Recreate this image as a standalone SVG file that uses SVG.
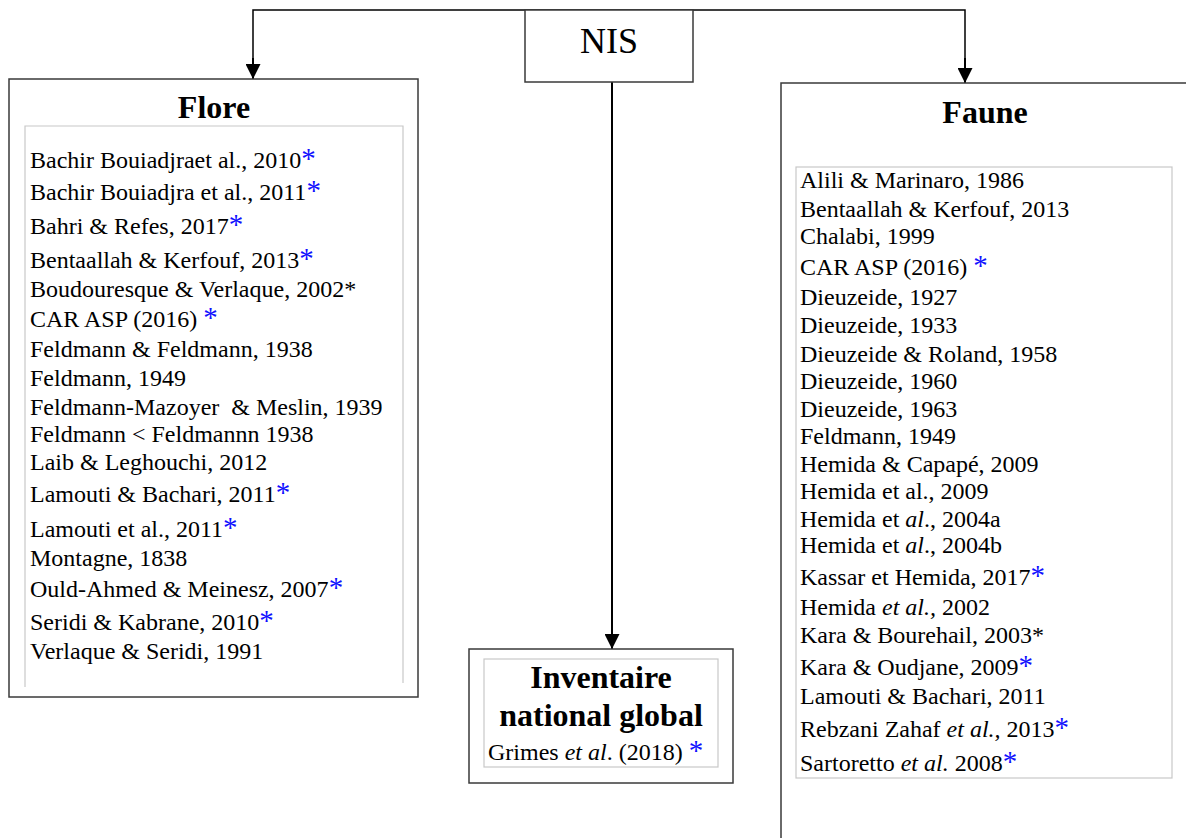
<svg xmlns="http://www.w3.org/2000/svg" width="1186" height="838" viewBox="0 0 1186 838">
<style>
text{font-family:"Liberation Serif","Times New Roman",serif;fill:#000}
.box{fill:#fff;stroke:#3a3a3a;stroke-width:1.5}
.inner{fill:none;stroke:#c8c8c8;stroke-width:1.2}
.title{font-size:32px;font-weight:bold;text-anchor:middle}
.item{font-size:24px;white-space:pre}
.b{fill:#1010ff;font-size:29px}
.conn{fill:none;stroke:#000;stroke-width:2}
.top{fill:none;stroke:#000;stroke-width:1.5}
</style>
<defs>
<marker id="arr" markerUnits="userSpaceOnUse" viewBox="0 0 15 15" refX="15" refY="7.5" markerWidth="15" markerHeight="15" orient="auto">
<path d="M0,0 L15,7.5 L0,15 z" fill="#000"/>
</marker>
</defs>

<g id="connectors">
<path class="top" d="M609,10 H253 V60"/>
<path class="conn" d="M253,58 V79" marker-end="url(#arr)"/>
<path class="top" d="M609,10 H965 V60"/>
<path class="conn" d="M965,58 V83" marker-end="url(#arr)"/>
<path class="conn" d="M612,82 V649" marker-end="url(#arr)"/>
</g>

<g id="nis">
<rect class="box" x="525" y="10" width="168" height="72"/>
<text x="609" y="53" style="font-size:36px;text-anchor:middle">NIS</text>
</g>

<g id="flore">
<rect class="box" x="9" y="79" width="409" height="618"/>
<text class="title" x="214" y="118">Flore</text>
<path class="inner" d="M25,687 V126 H403 V683"/>
<text class="item" x="30" y="168">Bachir Bouiadjraet al., 2010<tspan class="b">*</tspan></text>
<text class="item" x="30" y="200">Bachir Bouiadjra et al., 2011<tspan class="b">*</tspan></text>
<text class="item" x="30" y="234">Bahri &amp; Refes, 2017<tspan class="b">*</tspan></text>
<text class="item" x="30" y="268">Bentaallah &amp; Kerfouf, 2013<tspan class="b">*</tspan></text>
<text class="item" x="30" y="297">Boudouresque &amp; Verlaque, 2002*</text>
<text class="item" x="30" y="327">CAR ASP (2016) <tspan class="b">*</tspan></text>
<text class="item" x="30" y="357">Feldmann &amp; Feldmann, 1938</text>
<text class="item" x="30" y="386">Feldmann, 1949</text>
<text class="item" x="30" y="415">Feldmann-Mazoyer  &amp; Meslin, 1939</text>
<text class="item" x="30" y="442">Feldmann &lt; Feldmannn 1938</text>
<text class="item" x="30" y="470">Laib &amp; Leghouchi, 2012</text>
<text class="item" x="30" y="502">Lamouti &amp; Bachari, 2011<tspan class="b">*</tspan></text>
<text class="item" x="30" y="537">Lamouti et al., 2011<tspan class="b">*</tspan></text>
<text class="item" x="30" y="566">Montagne, 1838</text>
<text class="item" x="30" y="597">Ould-Ahmed &amp; Meinesz, 2007<tspan class="b">*</tspan></text>
<text class="item" x="30" y="630">Seridi &amp; Kabrane, 2010<tspan class="b">*</tspan></text>
<text class="item" x="30" y="659">Verlaque &amp; Seridi, 1991</text>
</g>

<g id="inventaire">
<rect class="box" x="469" y="649" width="264" height="134"/>
<rect class="inner" x="484" y="659" width="234" height="108"/>
<text class="title" x="601" y="688">Inventaire</text>
<text class="title" x="601" y="726">national global</text>
<text class="item" x="488" y="760">Grimes <tspan font-style="italic">et al</tspan>. (2018) <tspan class="b">*</tspan></text>
</g>

<g id="faune">
<rect class="box" x="781" y="83" width="420" height="800"/>
<text class="title" x="985" y="123">Faune</text>
<rect class="inner" x="796" y="167" width="376" height="611"/>
<text class="item" x="800" y="188">Alili &amp; Marinaro, 1986</text>
<text class="item" x="800" y="217">Bentaallah &amp; Kerfouf, 2013</text>
<text class="item" x="800" y="244">Chalabi, 1999</text>
<text class="item" x="800" y="275">CAR ASP (2016) <tspan class="b">*</tspan></text>
<text class="item" x="800" y="305">Dieuzeide, 1927</text>
<text class="item" x="800" y="333">Dieuzeide, 1933</text>
<text class="item" x="800" y="362">Dieuzeide &amp; Roland, 1958</text>
<text class="item" x="800" y="389">Dieuzeide, 1960</text>
<text class="item" x="800" y="417">Dieuzeide, 1963</text>
<text class="item" x="800" y="444">Feldmann, 1949</text>
<text class="item" x="800" y="472">Hemida &amp; Capapé, 2009</text>
<text class="item" x="800" y="499">Hemida et al., 2009</text>
<text class="item" x="800" y="527">Hemida et <tspan font-style="italic">al</tspan>., 2004a</text>
<text class="item" x="800" y="553">Hemida et <tspan font-style="italic">al</tspan>., 2004b</text>
<text class="item" x="800" y="585">Kassar et Hemida, 2017<tspan class="b">*</tspan></text>
<text class="item" x="800" y="615">Hemida <tspan font-style="italic">et al.,</tspan> 2002</text>
<text class="item" x="800" y="643">Kara &amp; Bourehail, 2003*</text>
<text class="item" x="800" y="675">Kara &amp; Oudjane, 2009<tspan class="b">*</tspan></text>
<text class="item" x="800" y="704">Lamouti &amp; Bachari, 2011</text>
<text class="item" x="800" y="737">Rebzani Zahaf <tspan font-style="italic">et al.,</tspan> 2013<tspan class="b">*</tspan></text>
<text class="item" x="800" y="771">Sartoretto <tspan font-style="italic">et al.</tspan> 2008<tspan class="b">*</tspan></text>
</g>
</svg>
